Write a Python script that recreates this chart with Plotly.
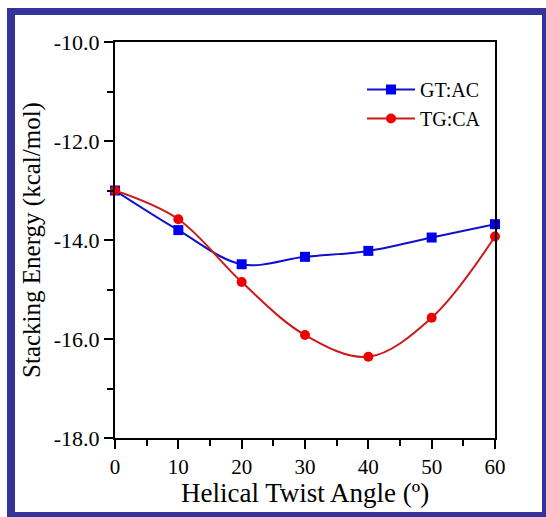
import plotly.graph_objects as go

# Helical twist angle (degrees)
twist = [0, 10, 20, 30, 40, 50, 60]

# Stacking energies (kcal/mol)
gt_ac = [-13.0, -13.8, -14.49, -14.34, -14.22, -13.95, -13.68]
tg_ca = [-13.0, -13.58, -14.85, -15.92, -16.36, -15.57, -13.93]

y_tickvals = [-18, -16, -14, -12, -10]
y_ticktext = ["-18.0", "-16.0", "-14.0", "-12.0", "-10.0"]
x_tickvals = [0, 10, 20, 30, 40, 50, 60]
x_ticktext = ["0", "10", "20", "30", "40", "50", "60"]
x_title = "Helical Twist Angle (º)"
y_title = "Stacking Energy (kcal/mol)"

W, H = 546, 517
L, R, T, B = 115, 51, 42, 79
PW, PH = W - L - R, H - T - B

SERIF = "'Times New Roman', 'Liberation Serif', 'DejaVu Serif', serif"
FRAME = "#333399"

fig = go.Figure()
fig.add_trace(go.Scatter(
    x=twist, y=gt_ac, name="GT:AC", mode="lines+markers",
    line=dict(color="#1010cc", width=2, shape="spline"),
    marker=dict(symbol="square", size=10, color="#0000ee"),
    cliponaxis=False,
))
fig.add_trace(go.Scatter(
    x=twist, y=tg_ca, name="TG:CA", mode="lines+markers",
    line=dict(color="#cc1a1a", width=2, shape="spline"),
    marker=dict(symbol="circle", size=10, color="#ee0000"),
    cliponaxis=False,
))

axis_common = dict(
    showgrid=False, zeroline=False, showline=True, linecolor="black",
    linewidth=2, mirror=True, ticks="outside", tickwidth=2,
    ticklen=9, tickcolor="black",
)

fig.update_xaxes(
    range=[0, 60], tickvals=x_tickvals, ticktext=x_ticktext,
    minor=dict(ticks="outside", dtick=5, ticklen=6, tickwidth=2, tickcolor="black"),
    tickfont=dict(family=SERIF, size=21, color="black"),
    **axis_common,
)
fig.update_yaxes(
    range=[-18, -10], tickvals=y_tickvals, ticktext=y_ticktext,
    minor=dict(ticks="outside", dtick=1, ticklen=6, tickwidth=2, tickcolor="black"),
    tickfont=dict(family=SERIF, size=22, color="black"),
    title=dict(text=y_title, font=dict(family=SERIF, size=25, color="black"), standoff=6),
    **axis_common,
)


def px(x):
    return (x - L) / PW


def py(y):
    return (H - B - y) / PH


# X-axis title placed as a paper annotation below the tick labels
fig.add_annotation(
    text=x_title, xref="paper", yref="paper", x=0.5, y=py(477),
    xanchor="center", yanchor="top", showarrow=False, borderpad=0,
    font=dict(family=SERIF, size=27, color="black"),
)

# Outer decorative frame
for x0, y0, x1, y1 in [(7, 8, 15, 517), (7, 8, 546, 15), (542, 8, 546, 517), (7, 512, 546, 517)]:
    fig.add_shape(type="rect", xref="paper", yref="paper",
                  x0=px(x0), x1=px(x1), y0=py(y1), y1=py(y0),
                  fillcolor=FRAME, line=dict(width=0), layer="above")

fig.update_layout(
    width=W, height=H,
    margin=dict(l=L, r=R, t=T, b=B),
    font=dict(family=SERIF, color="black"),
    paper_bgcolor="white", plot_bgcolor="white",
    showlegend=True,
    legend=dict(
        x=px(362), y=py(70), xanchor="left", yanchor="top",
        bgcolor="rgba(0,0,0,0)", font=dict(family=SERIF, size=20, color="black"),
        itemwidth=48, tracegroupgap=0,
    ),
)

fig.write_html("out.html")
